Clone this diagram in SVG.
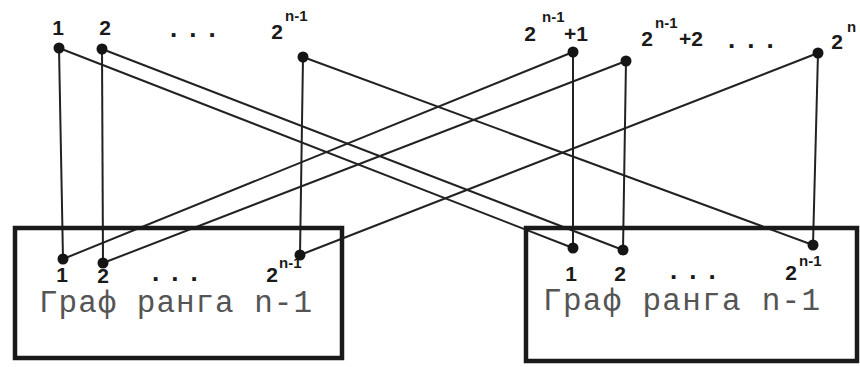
<svg xmlns="http://www.w3.org/2000/svg" width="860" height="367" viewBox="0 0 860 367">
<style>
.box{fill:none;stroke:#1a1a1a;stroke-width:4.5}
.ln{stroke:#222;stroke-width:2;fill:none}
.dot{fill:#151515}
.lb{font-family:"Liberation Sans",Arial,sans-serif;font-weight:bold;font-size:21px;fill:#1a1a1a}
.sup{font-family:"Liberation Sans",Arial,sans-serif;font-weight:bold;font-size:15px;fill:#1a1a1a}
.dots{font-family:"Liberation Sans",Arial,sans-serif;font-weight:bold;font-size:26px;fill:#1a1a1a;letter-spacing:12px}
.gt{font-family:"Liberation Mono","Courier New",monospace;font-size:31px;fill:#555}
</style>
<rect width="860" height="367" fill="#ffffff"/>
<g id="connectors">
<line class="ln" x1="59" y1="48" x2="63" y2="259"/>
<line class="ln" x1="102" y1="49" x2="103" y2="263"/>
<line class="ln" x1="303" y1="57" x2="300" y2="255"/>
<line class="ln" x1="573" y1="52" x2="573" y2="248"/>
<line class="ln" x1="626" y1="61" x2="623" y2="250"/>
<line class="ln" x1="818" y1="53" x2="813" y2="245"/>
<line class="ln" x1="59" y1="48" x2="573" y2="248"/>
<line class="ln" x1="102" y1="49" x2="623" y2="250"/>
<line class="ln" x1="303" y1="57" x2="813" y2="245"/>
<line class="ln" x1="573" y1="52" x2="63" y2="259"/>
<line class="ln" x1="626" y1="61" x2="103" y2="263"/>
<line class="ln" x1="818" y1="53" x2="300" y2="255"/>
</g>
<g id="graph-left">
<rect class="box" x="15" y="228" width="327" height="130"/>
<circle class="dot" cx="63" cy="259" r="5.5"/>
<circle class="dot" cx="103" cy="263" r="5.5"/>
<circle class="dot" cx="300" cy="255" r="5.5"/>
<text class="lb" x="62" y="282" text-anchor="middle">1</text>
<text class="lb" x="103" y="283" text-anchor="middle">2</text>
<text class="dots" x="152" y="281">...</text>
<text class="lb" x="272" y="282" text-anchor="middle">2</text>
<text class="sup" x="279" y="268">n-1</text>
<text class="gt" x="39" y="312" textLength="273" lengthAdjust="spacing">Граф ранга n-1</text>
</g>
<g id="graph-right">
<rect class="box" x="526" y="228" width="331" height="133"/>
<circle class="dot" cx="573" cy="248" r="5.5"/>
<circle class="dot" cx="623" cy="250" r="5.5"/>
<circle class="dot" cx="813" cy="245" r="5.5"/>
<text class="lb" x="571" y="281" text-anchor="middle">1</text>
<text class="lb" x="620" y="281" text-anchor="middle">2</text>
<text class="dots" x="670" y="279">...</text>
<text class="lb" x="791" y="280" text-anchor="middle">2</text>
<text class="sup" x="799" y="266">n-1</text>
<text class="gt" x="543" y="310" textLength="277" lengthAdjust="spacing">Граф ранга n-1</text>
</g>
<g id="top-left">
<circle class="dot" cx="59" cy="48" r="5.5"/>
<circle class="dot" cx="102" cy="49" r="5.5"/>
<circle class="dot" cx="303" cy="57" r="5.5"/>
<text class="lb" x="58" y="35" text-anchor="middle">1</text>
<text class="lb" x="105" y="35" text-anchor="middle">2</text>
<text class="dots" x="170" y="37">...</text>
<text class="lb" x="277" y="39" text-anchor="middle">2</text>
<text class="sup" x="285" y="21">n-1</text>
</g>
<g id="top-right">
<circle class="dot" cx="573" cy="52" r="5.5"/>
<circle class="dot" cx="626" cy="61" r="5.5"/>
<circle class="dot" cx="818" cy="53" r="5.5"/>
<text class="lb" x="530" y="41" text-anchor="middle">2</text>
<text class="sup" x="542" y="22">n-1</text>
<text class="lb" x="564" y="41">+1</text>
<text class="lb" x="647" y="46" text-anchor="middle">2</text>
<text class="sup" x="655" y="28">n-1</text>
<text class="lb" x="679" y="46">+2</text>
<text class="dots" x="728" y="48">...</text>
<text class="lb" x="837" y="49" text-anchor="middle">2</text>
<text class="sup" x="847" y="32">n</text>
</g>
</svg>
